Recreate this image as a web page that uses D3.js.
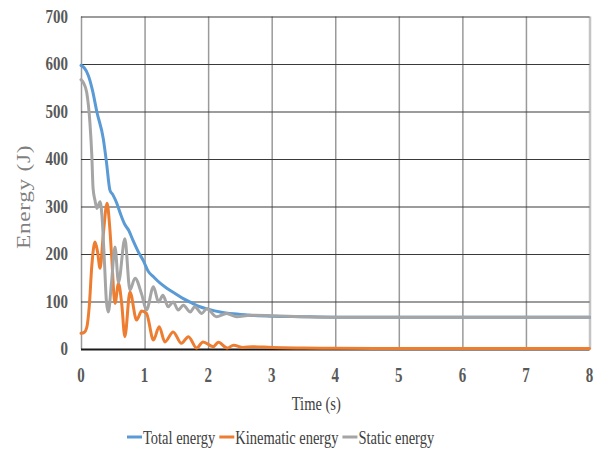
<!DOCTYPE html>
<html>
<head>
<meta charset="utf-8">
<script src="https://cdn.jsdelivr.net/npm/d3@7"></script>
<style>
  html, body { margin: 0; padding: 0; background: #fff; }
  svg { display: block; }
</style>
</head>
<body>
<svg id="chart" width="602" height="450" font-family="'Liberation Serif', 'Times New Roman', Times, serif"></svg>
<script>
// Energy history of the system, sampled at the turning points of each curve
const totalTime = [0, 0.05, 0.115, 0.18, 0.25, 0.35, 0.40, 0.456, 0.50, 0.56, 0.62, 0.69, 0.75, 0.82, 0.90, 0.98, 1.06, 1.14, 1.25, 1.35, 1.48, 1.61, 1.74, 1.87, 2.0, 2.19, 2.4, 2.66, 3.0, 3.45, 4, 5, 6, 7, 8];
const totalEnergy = [597, 592, 576, 545, 499, 443, 394, 334, 325, 308, 285, 262, 250, 228, 205, 186, 163, 152, 138, 128, 117, 106, 97, 89, 84, 78, 74, 71, 69, 68, 67, 67, 67, 67, 67];

const kinTime = [0, 0.05, 0.09, 0.13, 0.17, 0.22, 0.26, 0.30, 0.35, 0.41, 0.45, 0.48, 0.535, 0.59, 0.64, 0.69, 0.77, 0.875, 0.955, 1.03, 1.14, 1.23, 1.32, 1.45, 1.58, 1.69, 1.82, 1.92, 2.08, 2.16, 2.3, 2.40, 2.55, 2.7, 3.0, 3.5, 4, 5, 6, 7, 8];
const kinEnergy = [33, 35, 45, 90, 175, 225, 205, 170, 240, 307, 260, 200, 96, 138, 96, 26, 120, 61, 80, 75, 19, 47, 15, 36, 12, 26, 2, 15, 5, 14, 2, 8, 3, 5, 3, 2, 1.5, 1, 1, 1, 1];

const staticTime = [0, 0.04, 0.09, 0.14, 0.17, 0.19, 0.22, 0.25, 0.30, 0.33, 0.37, 0.40, 0.43, 0.48, 0.535, 0.59, 0.69, 0.77, 0.85, 0.955, 1.03, 1.14, 1.22, 1.29, 1.37, 1.45, 1.53, 1.61, 1.72, 1.79, 1.90, 1.98, 2.13, 2.29, 2.45, 2.66, 3.0, 3.5, 4, 5, 6, 7, 8];
const staticEnergy = [567, 560, 540, 477, 408, 338, 313, 296, 310, 280, 180, 100, 78, 140, 215, 140, 232, 124, 149, 115, 82, 131, 99, 113, 89, 99, 82, 92, 78, 89, 75, 85, 68, 75, 68, 71, 70, 68, 67, 67, 67, 67, 67];

const xTicks = [0, 1, 2, 3, 4, 5, 6, 7, 8];
const yTicks = [0, 100, 200, 300, 400, 500, 600, 700];

const seriesNames = ["Total energy", "Kinematic energy", "Static energy"];
const seriesColors = ["#5b9bd5", "#ed7d31", "#a5a5a5"];

const svg = d3.select("#chart");
const plotLeft = 81, plotRight = 589.5, plotTop = 16.5, plotBottom = 349;
const textStretch = 1.2;

const x = d3.scaleLinear().domain([0, 8]).range([plotLeft, plotRight]);
const y = d3.scaleLinear().domain([0, 700]).range([plotBottom, plotTop]);

// vertical grid
svg.append("g")
  .attr("transform", `translate(0,${plotBottom})`)
  .call(d3.axisBottom(x).tickValues(xTicks).tickSize(-(plotBottom - plotTop)).tickFormat(""))
  .call(g => g.select(".domain").remove())
  .call(g => g.selectAll(".tick line")
    .attr("stroke", d => d === 8 ? "#c4c4c4" : "#9a9a9a")
    .attr("stroke-width", d => d === 8 ? 2.5 : 1.5));

// horizontal grid
svg.append("g")
  .attr("transform", `translate(${plotLeft},0)`)
  .call(d3.axisLeft(y).tickValues(yTicks).tickSize(-(plotRight - plotLeft)).tickFormat(""))
  .call(g => g.select(".domain").remove())
  .call(g => g.selectAll(".tick line")
    .attr("stroke", d => d === 0 ? "#1a1a1a" : "#3a3a3a")
    .attr("stroke-width", d => d === 0 ? 2 : 1.2));

// tick labels
const yLab = svg.append("g");
yTicks.forEach(v => {
  yLab.append("g")
    .attr("transform", `translate(${plotLeft - 13},${y(v)}) scale(1,${textStretch})`)
    .append("text")
    .attr("text-anchor", "end")
    .attr("dy", "0.35em")
    .attr("font-size", 15)
    .attr("font-weight", "bold")
    .attr("fill", "#595959")
    .text(v);
});
const xLab = svg.append("g");
xTicks.forEach(v => {
  xLab.append("g")
    .attr("transform", `translate(${x(v)},${plotBottom + 26}) scale(1,${textStretch + 0.15})`)
    .append("text")
    .attr("text-anchor", "middle")
    .attr("dy", "0.35em")
    .attr("font-size", 15)
    .attr("font-weight", "bold")
    .attr("fill", "#595959")
    .text(v);
});

// axis titles
svg.append("g")
  .attr("transform", `translate(${(plotLeft + plotRight) / 2 - 19},${403}) scale(1,${textStretch + 0.1})`)
  .append("text")
  .attr("text-anchor", "middle")
  .attr("dy", "0.35em")
  .attr("font-size", 14.5)
  .attr("fill", "#404040")
  .text("Time (s)");

svg.append("g")
  .attr("transform", `translate(24,197) scale(1,${textStretch + 0.1}) rotate(-90)`)
  .append("text")
  .attr("text-anchor", "middle")
  .attr("dy", "0.35em")
  .attr("font-size", 18)
  .attr("letter-spacing", 0.5)
  .attr("fill", "#7f7f7f")
  .text("Energy (J)");

// series
const line = d3.line().curve(d3.curveMonotoneX).x(d => x(d[0])).y(d => y(d[1]));
const series = [
  d3.zip(totalTime, totalEnergy),
  d3.zip(kinTime, kinEnergy),
  d3.zip(staticTime, staticEnergy)
];
svg.append("g").selectAll("path")
  .data(series)
  .join("path")
  .attr("d", line)
  .attr("fill", "none")
  .attr("stroke", (d, i) => seriesColors[i])
  .attr("stroke-width", 3)
  .attr("stroke-linejoin", "round")
  .attr("stroke-linecap", "round");

// legend
const legend = svg.append("g");
let lx = 127;
const ly = 437;
seriesNames.forEach((name, i) => {
  legend.append("line")
    .attr("x1", lx).attr("x2", lx + 15)
    .attr("y1", ly).attr("y2", ly)
    .attr("stroke", seriesColors[i])
    .attr("stroke-width", 3);
  const t = legend.append("g")
    .attr("transform", `translate(${lx + 16},${ly}) scale(1,${textStretch + 0.1})`)
    .append("text")
    .attr("dy", "0.35em")
    .attr("font-size", 14.5)
    .attr("fill", "#404040")
    .text(name);
  lx += 16 + t.node().getComputedTextLength() + 4;
});
</script>
</body>
</html>
